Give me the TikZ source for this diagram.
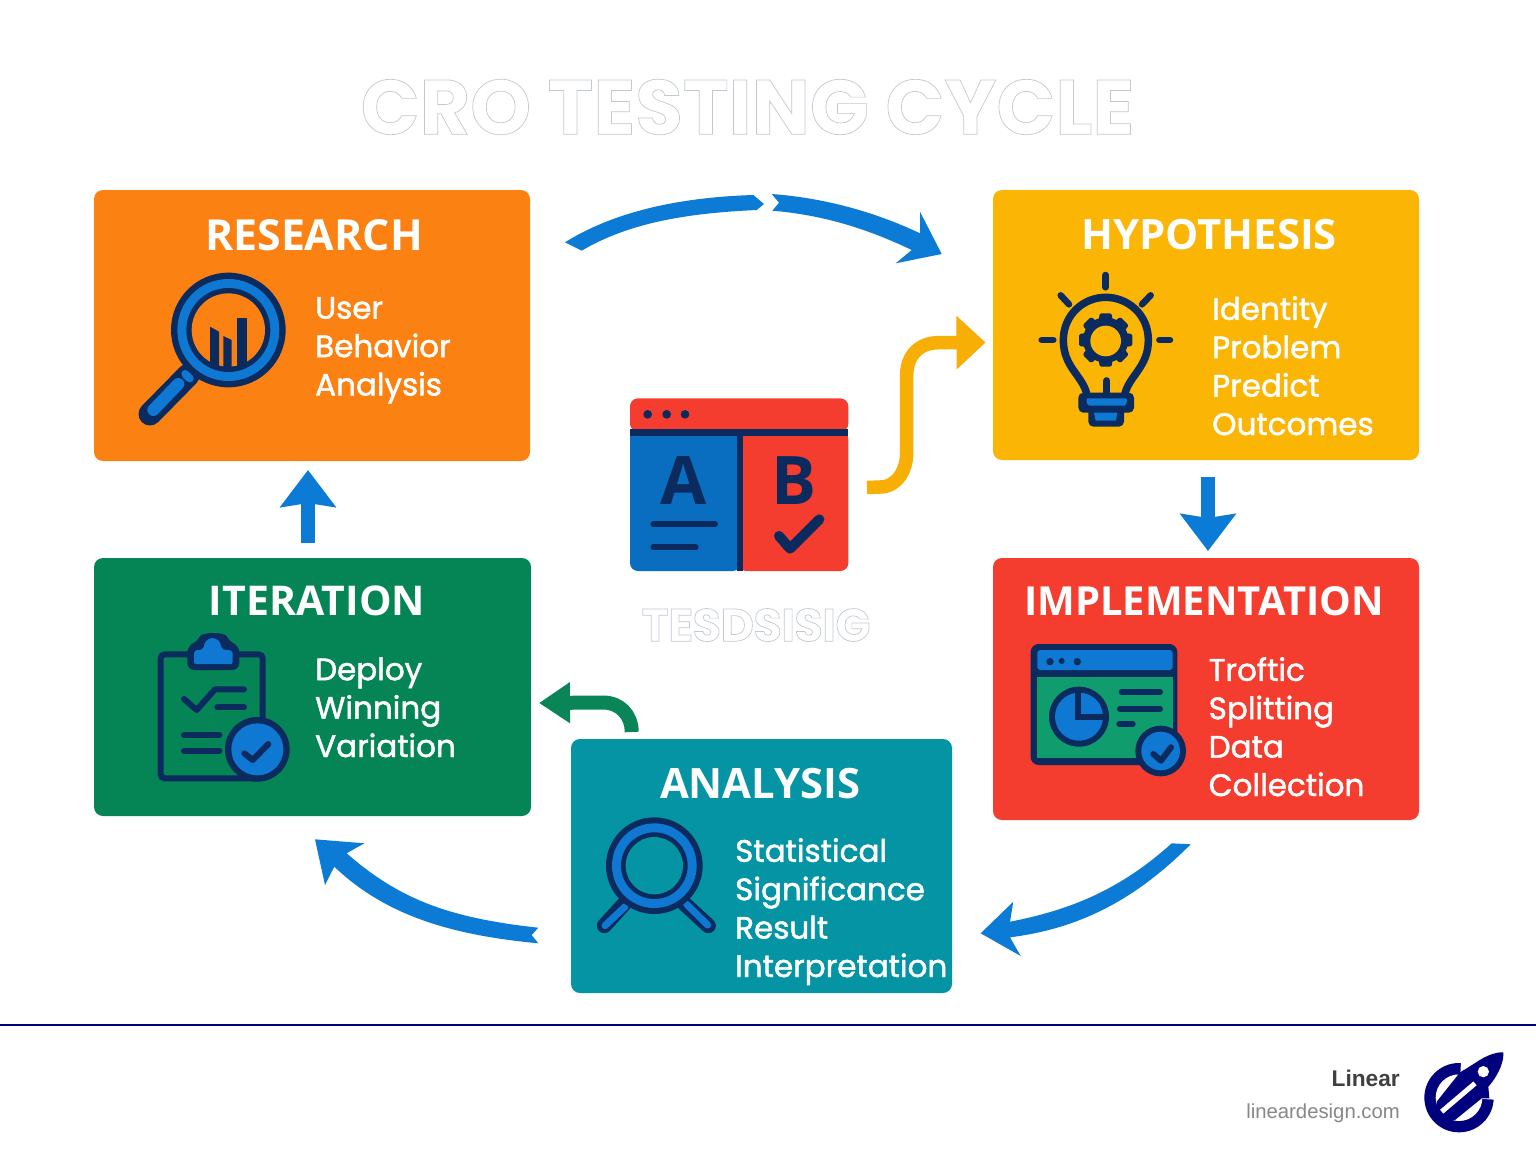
\documentclass[tikz,border=0pt]{standalone}
\usepackage{fontspec}
\usetikzlibrary{arrows.meta}
\setmainfont{Open Sans}
\newfontfamily\headfont{Open Sans}
\newfontfamily\titlefont{Poppins}
\newfontfamily\labelfont[LetterSpace=-1]{Poppins}
\newfontfamily\bodyfont[FakeBold=1.5]{Poppins}
\newfontfamily\footfont{Liberation Sans}
\definecolor{cOrange}{HTML}{FB8112}
\definecolor{cYellow}{HTML}{FAB505}
\definecolor{cRed}{HTML}{F43C2F}
\definecolor{cGreen}{HTML}{058556}
\definecolor{cTeal}{HTML}{0494A4}
\definecolor{cNavy}{HTML}{0B2A5E}
\definecolor{cIcon}{HTML}{0E78D2}
\definecolor{cPanel}{HTML}{0A6EC0}
\definecolor{cArrow}{HTML}{0C7BD6}
\definecolor{cYarrow}{HTML}{F7AF06}
\definecolor{cGarrow}{HTML}{0A8558}
\definecolor{cLine}{HTML}{00007F}
\definecolor{cMint}{HTML}{0F9D6E}
\newcommand{\hollowtext}[1]{\special{pdf:code q 1 Tr 0.7 w 0.76 0.79 0.81 RG}#1\special{pdf:code Q}}
\tikzset{
  card/.style={rounded corners=9pt,inner sep=0pt,outer sep=0pt,draw=none},
  cardhead/.style={font=\headfont\bfseries\fontsize{#1}{#1}\selectfont,text=white,inner sep=0pt},
  cardbody/.style={font=\bodyfont\fontsize{31}{38.4}\selectfont,text=white,inner sep=0pt,align=left,anchor=base west},
  bluearrow/.style={draw=cArrow,line width=14pt,-{Stealth[length=37pt,width=55pt,inset=4pt]}},
  taper/.style={fill=cArrow,draw=none},
  navyline/.style={draw=cNavy,line cap=round,line join=round},
  zoomed/.style={x=0.33333pt,y=-0.33333pt}
}
\begin{document}
\begin{tikzpicture}[x=1pt,y=-1pt]
\useasboundingbox (0,0) rectangle (1536,1154);
\fill[white] (0,0) rectangle (1536,1154);

% hollow titles first
\node[inner sep=0pt,font=\titlefont\bfseries\fontsize{77.5}{77.5}\selectfont] (title) at (747.5,107) {\hollowtext{CRO TESTING CYCLE}};
\node[inner sep=0pt,font=\labelfont\bfseries\fontsize{46}{46}\selectfont] (testlabel) at (756,625) {\hollowtext{TESDSISIG}};

% cards
\node[card,fill=cOrange,minimum width=436pt,minimum height=271pt] (research) at (312,325.5) {};
\node[card,fill=cYellow,minimum width=426pt,minimum height=270pt] (hypothesis) at (1206,325) {};
\node[card,fill=cRed,minimum width=426pt,minimum height=262pt] (implementation) at (1206,689) {};
\node[card,fill=cGreen,minimum width=437pt,minimum height=258pt] (iteration) at (312.5,687) {};
\node[card,fill=cTeal,minimum width=381pt,minimum height=254pt] (analysis) at (761.5,866) {};

\node[cardhead=42.8] (researchhead) at (314,235) {RESEARCH};
\node[cardhead=41.8] (hypothesishead) at (1209,235) {HYPOTHESIS};
\node[cardhead=40] (implementationhead) at (1204,601) {IMPLEMENTATION};
\node[cardhead=41] (iterationhead) at (317,601) {ITERATION};
\node[cardhead=41.8] (analysishead) at (760,784) {ANALYSIS};

\node[cardbody] (researchtext) at (315,395.5) {User\\Behavior\\Analysis};
\node[cardbody] (hypothesistext) at (1212,435) {Identity\\Problem\\Predict\\Outcomes};
\node[cardbody] (implementationtext) at (1208.5,796) {Troftic\\Splitting\\Data\\Collection};
\node[cardbody] (iterationtext) at (315,757) {Deploy\\Winning\\Variation};
\node[cardbody] (analysistext) at (735,977) {Statistical\\Significance\\Result\\Interpretation};

% research icon
\begin{scope}[shift={(120,260)},zoomed]
  \draw[cNavy,line width=23pt,line cap=round] (90,462) -- (205,345);
  \draw[cIcon,line width=12pt,line cap=round] (100,450) -- (175,372);
  \draw[cIcon,line width=8pt,line cap=round] (196,342) -- (209,355);
  \fill[cNavy] (325,210) circle[radius=172];
  \fill[cIcon] (325,210) circle[radius=153];
  \fill[cNavy] (325,210) circle[radius=126];
  \fill[cOrange] (325,210) circle[radius=110];
  \begin{scope}
    \clip (325,210) circle[radius=112];
    \fill[cNavy] (270,200) -- (297,215) -- (297,330) -- (270,330) -- cycle;
    \fill[cNavy] (310,228) -- (335,240) -- (335,330) -- (310,330) -- cycle;
    \fill[cNavy] (352,175) -- (382,175) -- (382,330) -- (352,330) -- cycle;
  \end{scope}
\end{scope}

% bulb icon
\begin{scope}[shift={(1020,260)},zoomed]
  \foreach \p/\q in {{257,45}/{257,82},{122,106}/{147,133},{392,106}/{366,133},{65,240}/{100,240},{418,240}/{450,240}}
    \draw[navyline,line width=6.5pt] (\p) -- (\q);
  \draw[navyline,line width=7.5pt] (200,400) .. controls (185,345) and (130,320) .. (130,240)
     .. controls (130,165) and (190,112) .. (257,112)
     .. controls (325,112) and (385,165) .. (385,240)
     .. controls (385,320) and (330,345) .. (315,400);
  \draw[navyline,line width=7pt] (260,362) -- (260,400);
  \fill[cNavy] (257,240) circle[radius=68];
  \foreach \a in {0,45,...,315}
    \fill[cNavy,rotate around={\a:(257,240)},rounded corners=1.5pt] (234,200) -- (239,160) -- (275,160) -- (280,200) -- cycle;
  \fill[cYellow] (257,243) circle[radius=46];
  \fill[cNavy,rounded corners=5pt] (175,398) rectangle (342,458);
  \fill[cNavy,rounded corners=5pt] (205,440) rectangle (312,500);
  \fill[cIcon,rounded corners=1.5pt] (198,415) -- (322,415) -- (318,437) -- (203,437) -- cycle;
  \fill[cIcon] (222,458) -- (292,458) -- (288,482) -- (227,482) -- cycle;
\end{scope}

% A/B icon
\begin{scope}[shift={(610,390)},zoomed]
  \fill[cRed,rounded corners=8pt] (60,125) -- (60,25) -- (715,25) -- (715,125) -- cycle;
  \fill[cRed,rounded corners=8pt] (385,125) -- (715,125) -- (715,543) -- (385,543) -- cycle;
  \fill[cRed] (385,120) rectangle (715,150);
  \fill[cPanel,rounded corners=8pt] (392,125) -- (60,125) -- (60,543) -- (392,543) -- cycle;
  \fill[cPanel] (60,120) rectangle (392,150);
  \fill[cNavy] (60,117) rectangle (715,137);
  \fill[cNavy] (380,117) rectangle (398,543);
  \foreach \p in {113,170,225} \fill[cNavy] (\p,73) circle[radius=13];
  \draw[navyline,line width=6pt] (130,403) -- (315,403);
  \draw[navyline,line width=6pt] (130,472) -- (257,472);
  \draw[navyline,line width=10pt] (507,438) -- (540,476) -- (628,388);
  \node[inner sep=0pt,font=\headfont\bfseries\fontsize{67}{67}\selectfont,text=cNavy] (letterA) at (220,271) {A};
  \node[inner sep=0pt,font=\headfont\bfseries\fontsize{67}{67}\selectfont,text=cNavy] (letterB) at (553,271) {B};
\end{scope}

% clipboard icon
\begin{scope}[shift={(140,620)},zoomed]
  \draw[cNavy,line width=6pt,rounded corners=4pt] (62,103) rectangle (368,475);
  \fill[cNavy,rounded corners=7pt] (142,75) -- (170,70) .. controls (185,35) and (255,35) .. (270,70) -- (298,75) -- (298,150) -- (142,150) -- cycle;
  \fill[cIcon,rounded corners=2pt] (162,92) -- (190,88) .. controls (195,45) and (240,45) .. (245,88) -- (278,92) -- (278,132) -- (162,132) -- cycle;
  \draw[navyline,line width=6pt] (132,237) -- (170,270) -- (225,208) -- (312,208);
  \draw[navyline,line width=6pt] (232,262) -- (312,262);
  \draw[navyline,line width=6pt] (132,345) -- (238,345);
  \draw[navyline,line width=6pt] (132,393) -- (238,393);
  \fill[cNavy] (352,388) circle[radius=97];
  \fill[cIcon] (352,388) circle[radius=78];
  \draw[navyline,line width=6pt] (313,400) -- (338,420) -- (385,372);
\end{scope}

% window icon
\begin{scope}[shift={(1020,630)},zoomed]
  \fill[cNavy,rounded corners=8pt] (32,42) rectangle (472,405);
  \fill[cIcon,rounded corners=3pt] (52,60) rectangle (458,120);
  \fill[cMint] (52,140) rectangle (458,385);
  \fill[cNavy] (90,95) circle[radius=11];
  \fill[cNavy] (125,93) circle[radius=9];
  \fill[cNavy] (172,95) circle[radius=11];
  \fill[cNavy] (177,260) circle[radius=90];
  \fill[cIcon] (177,260) circle[radius=72];
  \draw[cNavy,line width=6pt] (174,175) -- (174,262) -- (262,262);
  \fill[cIcon] (188,192) -- (188,250) -- (246,250) .. controls (244,218) and (220,194) .. (188,192) -- cycle;
  \draw[navyline,line width=6pt] (305,185) -- (420,185);
  \draw[navyline,line width=6pt] (300,237) -- (420,237);
  \draw[navyline,line width=6pt] (298,282) -- (338,282);
  \fill[cNavy] (422,363) circle[radius=76];
  \fill[cIcon] (422,363) circle[radius=58];
  \draw[navyline,line width=6pt] (400,372) -- (423,392) -- (453,352);
\end{scope}

% analysis icon
\begin{scope}[shift={(585,805)},zoomed]
  \draw[cNavy,line width=15pt,line cap=round] (118,296) -- (58,362);
  \draw[cNavy,line width=15pt,line cap=round] (298,296) -- (370,362);
  \draw[cIcon,line width=7pt,line cap=round] (120,305) -- (60,362);
  \draw[cIcon,line width=7pt,line cap=round] (305,298) -- (368,360);
  \fill[cNavy] (208,182) circle[radius=145];
  \fill[cIcon] (208,182) circle[radius=127];
  \fill[cNavy] (208,182) circle[radius=100];
  \fill[cTeal] (208,182) circle[radius=86];
\end{scope}

% connectors
\coordinate (upStart) at (308,543);
\coordinate (upEnd) at (308,470);
\draw[bluearrow] (upStart) -- (upEnd);
\coordinate (downStart) at (1208,477);
\coordinate (downEnd) at (1208,551);
\draw[bluearrow] (downStart) -- (downEnd);

\coordinate (yellowStart) at (867,487.5);
\coordinate (yellowEnd) at (985.5,342.5);
\draw[draw=cYarrow,line width=13.5pt,-{Triangle[length=29pt,width=52pt]}] (yellowStart) -- (880,487) .. controls (897,487) and (906.7,470) .. (906.7,453) -- (906.7,375) .. controls (906.7,355) and (920,342.7) .. (938,342.7) -- (yellowEnd);

\coordinate (greenStart) at (631.7,732);
\coordinate (greenEnd) at (539,703);
\draw[draw=cGarrow,line width=14pt,-{Triangle[length=31pt,width=39pt]}] (greenStart) .. controls (631.7,715) and (620,702.5) .. (603,702.5) -- (greenEnd);

% tapered arcs
\coordinate (topAStart) at (565,242.3);
\coordinate (topAEnd) at (764,204);
\fill[taper] (topAStart) .. controls (620,208) and (690,197) .. (753.3,195) -- (topAEnd) -- (756.7,210) .. controls (690,213) and (630,222) .. (581.7,250.7) -- cycle;
\coordinate (topBStart) at (779,202.7);
\coordinate (topBEnd) at (941.7,254);
\fill[taper] (771.7,194) .. controls (825,198) and (875,212) .. (920,233.3) -- (920,211.7) -- (topBEnd) -- (895.7,263.3) -- (911.7,250) .. controls (870,230) and (825,215) .. (772.3,210.7) -- (topBStart) -- cycle;
\coordinate (brStart) at (1171.7,843.3);
\coordinate (brEnd) at (980.7,933.3);
\fill[taper] (brStart) .. controls (1120,890) and (1070,910) .. (1010,921.7) -- (1013.3,901.7) -- (brEnd) -- (1020.7,956) -- (1010,937.3) .. controls (1085,928) and (1140,895) .. (1190.7,844.3) -- cycle;
\coordinate (blStart) at (531.7,935);
\coordinate (blEnd) at (315,839.3);
\fill[taper] (blEnd) -- (364.3,843.3) -- (346.7,853.3) .. controls (400,900) and (450,918) .. (538.3,927.7) -- (blStart) -- (538.3,943.3) .. controls (450,935) and (385,915) .. (334.3,866.7) -- (325,885) -- cycle;

% footer
\coordinate (ruleL) at (0,1025);
\coordinate (ruleR) at (1536,1025);
\draw[cLine,line width=2.5pt] (ruleL) -- (ruleR);
\node[inner sep=0pt,anchor=base east,font=\footfont\bfseries\fontsize{22.7}{22.7}\selectfont,text=black!75] (brandname) at (1400,1086) {Linear};
\node[inner sep=0pt,anchor=base east,font=\footfont\fontsize{20.3}{20.3}\selectfont,text=black!47] (brandurl) at (1400,1118) {lineardesign.com};
\begin{scope}[shift={(1220,1030)},zoomed]
  \fill[cLine] (717,203) circle[radius=104];
  \fill[white] (717,203) circle[radius=70];
  \fill[white] (717,203) -- (725,60) -- (880,40) -- (880,212) -- cycle;
  \fill[cLine] (650,215) -- (712,137) -- (718,128) -- (735,118) -- (770,96) .. controls (795,78) and (830,65) .. (850,67) .. controls (852,90) and (840,130) .. (805,170) -- (808,205) -- (785,205) -- (705,270) -- (675,270) -- (650,240) -- cycle;
  \draw[white,line width=5pt] (665,245) -- (765,160);
  \fill[white] (790,125) circle[radius=17];
\end{scope}
\end{tikzpicture}
\end{document}
